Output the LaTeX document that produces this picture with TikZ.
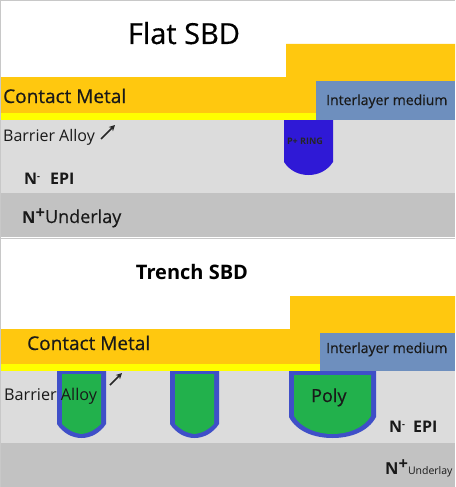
\documentclass[tikz,border=0pt]{standalone}
\usepackage{fontspec}
\setmainfont[BoldFont={Open Sans Bold}]{Open Sans}
\newfontfamily\medfont[FakeBold=0.5]{Open Sans}
\definecolor{gold}{HTML}{FFC80F}
\definecolor{yel}{HTML}{FFFF00}
\definecolor{medium}{HTML}{6E8FBE}
\definecolor{epi}{HTML}{DCDCDC}
\definecolor{under}{HTML}{C2C2C2}
\definecolor{ring}{HTML}{2F19D6}
\definecolor{liner}{HTML}{3F4FC8}
\definecolor{poly}{HTML}{22B14C}
\definecolor{frame}{HTML}{C8C8C8}
\usetikzlibrary{arrows.meta}
\tikzset{
  lab/.style={inner sep=0pt,anchor=base west,text=black!90},
  ptr/.style={-{Stealth[length=6pt,width=6pt]},line width=1.5pt,black!85},
}
\begin{document}
\begin{tikzpicture}[x=1pt,y=-1pt]
\useasboundingbox (0,0) rectangle (455,487);
\fill[white] (0,0) rectangle (455,487);
% --- Flat SBD
\fill[epi] (1,120) rectangle (455,193);
\fill[under] (1,193) rectangle (455,237);
\fill[gold] (1,77) -- (286,77) -- (286,44) -- (455,44) -- (455,81) -- (316,81) -- (316,113) -- (1,113) -- cycle;
\fill[yel] (1,113) rectangle (316,120);
\fill[medium] (316,81) rectangle (455,120);
\fill[ring] (284,120) -- (333,120) -- (333,162) .. controls (327,171) and (318,175) .. (308.5,175) .. controls (299,175) and (290,171) .. (284,162) -- cycle;
% --- Trench SBD
\fill[epi] (1,371) rectangle (455,443);
\fill[under] (1,443) rectangle (455,487);
\fill[gold] (1,329) -- (290,329) -- (290,296) -- (455,296) -- (455,333) -- (320,333) -- (320,364) -- (1,364) -- cycle;
\fill[yel] (1,364) rectangle (320,371);
\fill[medium] (320,333) rectangle (455,371);
\foreach \xa/\xb in {57/106,170/219}{
  \fill[liner] (\xa,371) -- (\xb,371) -- (\xb,424) .. controls (\xb-6,433) and (\xb-15,438) .. ({(\xa+\xb)/2},438) .. controls (\xa+15,438) and (\xa+6,433) .. (\xa,424) -- cycle;
  \fill[poly] (\xa+5,374) -- (\xb-5,374) -- (\xb-5,424) .. controls (\xb-10,429) and (\xb-16,433) .. ({(\xa+\xb)/2},434) .. controls (\xa+16,433) and (\xa+10,429) .. (\xa+5,424) -- cycle;
}
\fill[liner] (289,371) -- (376,371) -- (376,417) .. controls (368,432) and (350,438) .. (332.5,438) .. controls (315,438) and (297,432) .. (289,417) -- cycle;
\fill[poly] (294,375) -- (371,375) -- (371,416) .. controls (364,428) and (348,434) .. (332.5,434) .. controls (317,434) and (301,428) .. (294,416) -- cycle;
% frame
\draw[frame,line width=1pt] (0.5,487) -- (0.5,0.5) -- (455,0.5);
\draw[frame,line width=1pt] (0,238) -- (455,238);
% --- Texts flat
\node[inner sep=0pt,anchor=base] (t1) at (184,44) {\medfont\fontsize{29}{29}\selectfont Flat SBD};
\node[lab] (cm1) at (3,103) {\medfont\fontsize{19}{19}\selectfont Contact Metal};
\node[lab] (il1) at (326,105) {\medfont\fontsize{14}{14}\selectfont Interlayer medium};
\node[lab] (ba1) at (3,141) {\fontsize{16}{16}\selectfont Barrier Alloy};
\coordinate (a1s) at (101,139);
\coordinate (a1e) at (115,125);
\draw[ptr] (a1s) -- (a1e);
\node[inner sep=0pt,anchor=base,text=black!85] (pr) at (305,144) {\fontsize{9}{9}\selectfont\bfseries P+ RING};
\node[lab] (ne1) at (24,184) {\bfseries\fontsize{16}{16}\selectfont N\raisebox{5pt}{\fontsize{9}{9}\selectfont -}\hspace{10pt}\fontsize{16}{16}\selectfont EPI};
\node[lab] (nu1) at (22,223) {{\bfseries\fontsize{16.5}{16.5}\selectfont N\raisebox{5pt}{+}}\medfont\fontsize{18}{18}\selectfont Underlay};
% --- Texts trench
\node[inner sep=0pt,anchor=base] (t2) at (192,279) {\fontsize{20}{20}\selectfont\bfseries Trench SBD};
\node[lab] (cm2) at (27,350) {\medfont\fontsize{19}{19}\selectfont Contact Metal};
\node[lab] (il2) at (326,353) {\medfont\fontsize{14}{14}\selectfont Interlayer medium};
\node[lab] (ba2) at (4,400) {\fontsize{16.2}{16.2}\selectfont Barrier Alloy};
\coordinate (a2s) at (110,385);
\coordinate (a2e) at (122,373);
\draw[ptr] (a2s) -- (a2e);
\node[lab] (po) at (311,402) {\medfont\fontsize{18}{18}\selectfont Poly};
\node[lab] (ne2) at (389,432) {\bfseries\fontsize{16}{16}\selectfont N\raisebox{5pt}{\fontsize{9}{9}\selectfont -}\hspace{8pt}\fontsize{16}{16}\selectfont EPI};
\node[lab] (nu2) at (385,474) {{\bfseries\fontsize{16.5}{16.5}\selectfont N\raisebox{5pt}{+}}\fontsize{10.5}{10.5}\selectfont Underlay};
\end{tikzpicture}
\end{document}
